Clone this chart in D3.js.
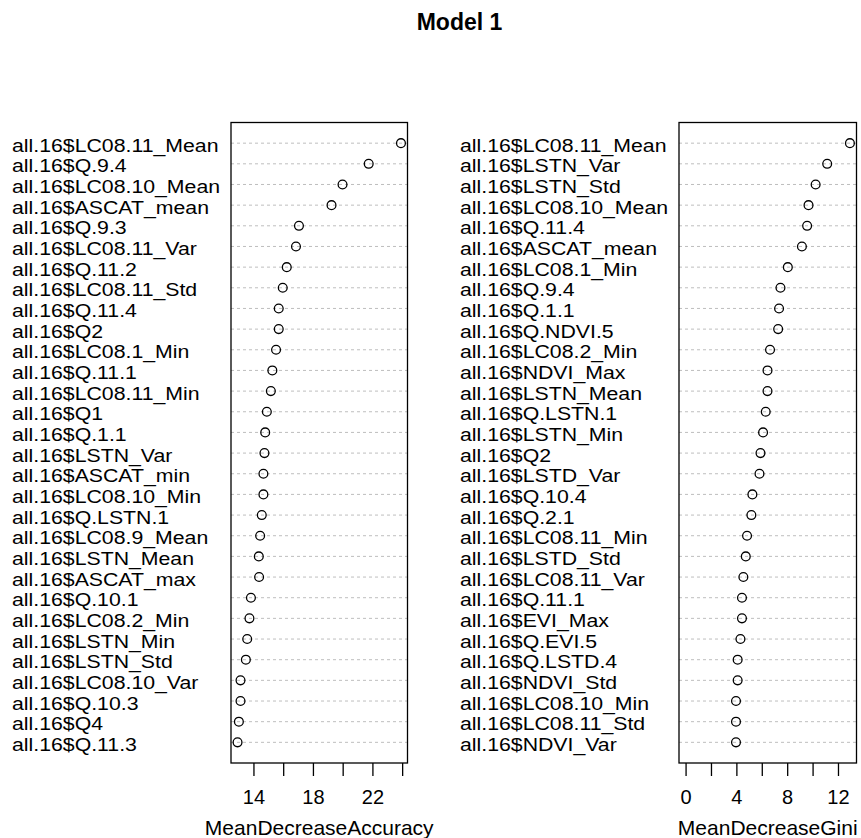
<!DOCTYPE html>
<html>
<head>
<meta charset="utf-8">
<script src="https://cdn.jsdelivr.net/npm/d3@7/dist/d3.min.js"></script>
<style>
  html, body { margin: 0; padding: 0; background: #fff; }
  svg { display: block; font-family: "Liberation Sans", Arial, sans-serif; }
</style>
</head>
<body>
<svg id="chart" width="861" height="838"></svg>
<script>
// Variable importance, random forest "Model 1"
const accuracyLabels = [
  "all.16$LC08.11_Mean", "all.16$Q.9.4", "all.16$LC08.10_Mean", "all.16$ASCAT_mean",
  "all.16$Q.9.3", "all.16$LC08.11_Var", "all.16$Q.11.2", "all.16$LC08.11_Std",
  "all.16$Q.11.4", "all.16$Q2", "all.16$LC08.1_Min", "all.16$Q.11.1",
  "all.16$LC08.11_Min", "all.16$Q1", "all.16$Q.1.1", "all.16$LSTN_Var",
  "all.16$ASCAT_min", "all.16$LC08.10_Min", "all.16$Q.LSTN.1", "all.16$LC08.9_Mean",
  "all.16$LSTN_Mean", "all.16$ASCAT_max", "all.16$Q.10.1", "all.16$LC08.2_Min",
  "all.16$LSTN_Min", "all.16$LSTN_Std", "all.16$LC08.10_Var", "all.16$Q.10.3",
  "all.16$Q4", "all.16$Q.11.3"
];
const accuracyValues = [
  23.92, 21.75, 19.99, 19.25, 17.06, 16.86, 16.24, 15.97, 15.70, 15.70,
  15.52, 15.27, 15.17, 14.90, 14.79, 14.74, 14.67, 14.67, 14.56, 14.45,
  14.36, 14.38, 13.83, 13.73, 13.58, 13.49, 13.13, 13.13, 13.02, 12.93
];

const giniLabels = [
  "all.16$LC08.11_Mean", "all.16$LSTN_Var", "all.16$LSTN_Std", "all.16$LC08.10_Mean",
  "all.16$Q.11.4", "all.16$ASCAT_mean", "all.16$LC08.1_Min", "all.16$Q.9.4",
  "all.16$Q.1.1", "all.16$Q.NDVI.5", "all.16$LC08.2_Min", "all.16$NDVI_Max",
  "all.16$LSTN_Mean", "all.16$Q.LSTN.1", "all.16$LSTN_Min", "all.16$Q2",
  "all.16$LSTD_Var", "all.16$Q.10.4", "all.16$Q.2.1", "all.16$LC08.11_Min",
  "all.16$LSTD_Std", "all.16$LC08.11_Var", "all.16$Q.11.1", "all.16$EVI_Max",
  "all.16$Q.EVI.5", "all.16$Q.LSTD.4", "all.16$NDVI_Std", "all.16$LC08.10_Min",
  "all.16$LC08.11_Std", "all.16$NDVI_Var"
];
const giniValues = [
  12.94, 11.15, 10.24, 9.68, 9.57, 9.16, 8.05, 7.47, 7.36, 7.29,
  6.65, 6.45, 6.45, 6.31, 6.10, 5.90, 5.82, 5.26, 5.18, 4.84,
  4.74, 4.55, 4.44, 4.44, 4.32, 4.10, 4.10, 3.97, 3.97, 3.97
];

const accuracyTicks = [14, 16, 18, 20, 22, 24];
const accuracyTickLabels = [14, 18, 22];
const giniTicks = [0, 2, 4, 6, 8, 10, 12];
const giniTickLabels = [0, 4, 8, 12];

const chartTitle = "Model 1";
const accuracyTitle = "MeanDecreaseAccuracy";
const giniTitle = "MeanDecreaseGini";

const svg = d3.select("#chart");

svg.append("text")
  .attr("x", 459.5).attr("y", 30)
  .attr("text-anchor", "middle")
  .attr("font-size", 23).attr("font-weight", "bold")
  .attr("fill", "#000")
  .text(chartTitle);

const boxTop = 122.5, boxBottom = 763;

function panel(opts) {
  const { labels, values, ticks, tickLabels, title, left, right, labelX, fromZero } = opts;
  const n = values.length;
  const lo = fromZero ? 0 : d3.min(values);
  const hi = d3.max(values);
  const pad = 0.04 * (hi - lo);
  const x = d3.scaleLinear().domain([lo - pad, hi + pad]).range([left, right]);
  const y = d3.scaleLinear().domain([0, n + 1]).range([boxBottom, boxTop]);
  const rowY = i => y(n - i);

  const g = svg.append("g");

  // dotted guide lines
  g.selectAll("line.guide").data(values).join("line")
    .attr("class", "guide")
    .attr("x1", left).attr("x2", right)
    .attr("y1", (d, i) => rowY(i)).attr("y2", (d, i) => rowY(i))
    .attr("stroke", "#bebebe").attr("stroke-width", 1)
    .attr("stroke-dasharray", "3,3");

  // row labels
  g.selectAll("text.row").data(labels).join("text")
    .attr("class", "row")
    .attr("transform", (d, i) => `translate(${labelX},${rowY(i) + 8.5}) scale(1.15,1)`)
    .attr("font-size", 18.5)
    .attr("fill", "#000")
    .text(d => d);

  // points
  g.selectAll("circle").data(values).join("circle")
    .attr("cx", d => x(d)).attr("cy", (d, i) => rowY(i))
    .attr("r", 4.4)
    .attr("fill", "none").attr("stroke", "#000").attr("stroke-width", 1.3);

  // frame
  g.append("rect")
    .attr("x", left).attr("y", boxTop)
    .attr("width", right - left).attr("height", boxBottom - boxTop)
    .attr("fill", "none").attr("stroke", "#000").attr("stroke-width", 1.3);

  // x axis
  const axis = d3.axisBottom(x)
    .tickValues(ticks)
    .tickSize(13)
    .tickPadding(14)
    .tickFormat(d => tickLabels.includes(d) ? String(d) : "");
  const ag = g.append("g").attr("transform", `translate(0,${boxBottom})`).call(axis);
  ag.select(".domain").remove();
  ag.selectAll(".tick line").attr("stroke", "#000").attr("stroke-width", 1.3);
  ag.selectAll(".tick text")
    .attr("font-size", 20)
    .attr("font-family", "Liberation Sans, Arial, sans-serif")
    .attr("fill", "#000");

  g.append("text")
    .attr("x", (left + right) / 2).attr("y", 835)
    .attr("text-anchor", "middle")
    .attr("font-size", 21).attr("fill", "#000")
    .text(title);
}

panel({
  labels: accuracyLabels, values: accuracyValues,
  ticks: accuracyTicks, tickLabels: accuracyTickLabels, title: accuracyTitle,
  left: 231, right: 407.5, labelX: 12, fromZero: false
});
panel({
  labels: giniLabels, values: giniValues,
  ticks: giniTicks, tickLabels: giniTickLabels, title: giniTitle,
  left: 679, right: 856.5, labelX: 460, fromZero: true
});
</script>
</body>
</html>
